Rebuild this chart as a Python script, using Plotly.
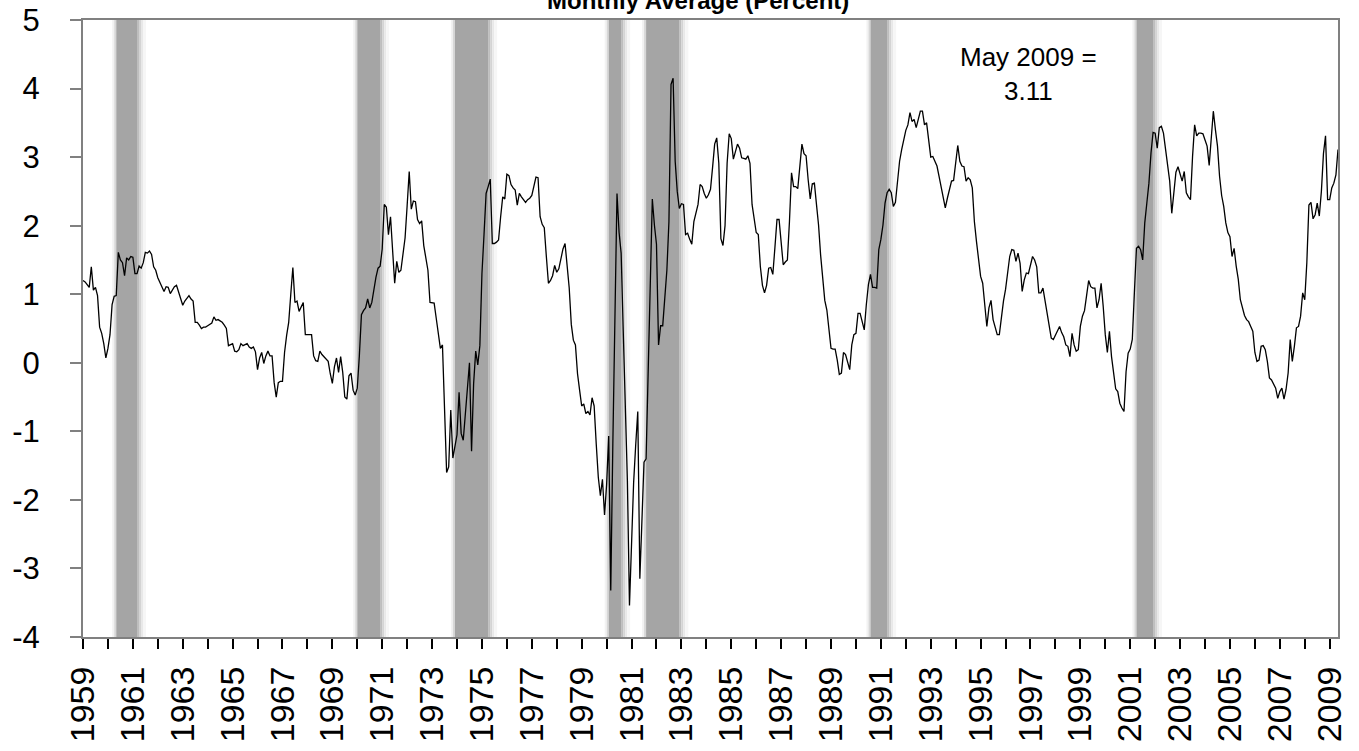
import plotly.graph_objects as go

# ---- Spread, monthly average (percent), Jan 1959 .. May 2009 ----
y1959 = [1.20, 1.18, 1.14, 1.10, 1.40, 1.06, 1.10, 0.98, 0.52, 0.43, 0.28, 0.07]
y1960 = [0.21, 0.41, 0.85, 0.97, 0.98, 1.61, 1.50, 1.46, 1.27, 1.53, 1.50, 1.55]
y1961 = [1.54, 1.30, 1.30, 1.41, 1.38, 1.46, 1.61, 1.60, 1.63, 1.58, 1.40, 1.35]
y1962 = [1.24, 1.18, 1.11, 1.04, 1.11, 1.10, 1.01, 1.06, 1.11, 1.13, 1.03, 0.96]
y1963 = [0.84, 0.90, 0.95, 0.98, 0.93, 0.90, 0.59, 0.59, 0.55, 0.50, 0.52, 0.52]
y1964 = [0.54, 0.56, 0.58, 0.67, 0.62, 0.63, 0.61, 0.59, 0.55, 0.50, 0.25, 0.26]
y1965 = [0.28, 0.17, 0.16, 0.19, 0.28, 0.25, 0.27, 0.28, 0.23, 0.21, 0.23, 0.16]
y1966 = [-0.10, 0.07, 0.15, -0.01, 0.10, 0.17, 0.10, 0.10, -0.29, -0.50, -0.29, -0.27]
y1967 = [-0.27, 0.15, 0.40, 0.59, 1.00, 1.39, 0.88, 0.90, 0.75, 0.83, 0.88, 0.41]
y1968 = [0.41, 0.42, 0.41, 0.10, 0.03, 0.02, 0.17, 0.12, 0.09, 0.05, 0.02, -0.16]
y1969 = [-0.30, -0.06, 0.07, -0.14, 0.09, -0.14, -0.50, -0.53, -0.19, -0.15, -0.40, -0.47]
y1970 = [-0.37, 0.10, 0.70, 0.76, 0.80, 0.93, 0.80, 0.88, 1.09, 1.25, 1.38, 1.41]
y1971 = [1.66, 2.31, 2.27, 1.87, 2.13, 1.71, 1.16, 1.48, 1.32, 1.35, 1.60, 1.82]
y1972 = [2.29, 2.79, 2.24, 2.36, 2.35, 2.09, 2.03, 2.07, 1.71, 1.53, 1.35, 0.88]
y1973 = [0.88, 0.87, 0.65, 0.43, 0.21, 0.26, -0.58, -1.60, -1.52, -0.69, -1.39, -1.21]
y1974 = [-1.05, -0.43, -1.03, -1.13, -0.74, -0.40, 0.00, -1.29, -0.30, 0.17, -0.03, 0.25]
y1975 = [1.30, 1.87, 2.47, 2.57, 2.68, 1.74, 1.74, 1.76, 1.79, 2.13, 2.42, 2.39]
y1976 = [2.75, 2.73, 2.60, 2.55, 2.52, 2.30, 2.47, 2.42, 2.38, 2.34, 2.38, 2.40]
y1977 = [2.44, 2.58, 2.71, 2.70, 2.13, 2.02, 1.97, 1.55, 1.16, 1.20, 1.27, 1.42]
y1978 = [1.32, 1.37, 1.53, 1.66, 1.74, 1.40, 1.09, 0.56, 0.33, 0.26, -0.16, -0.40]
y1979 = [-0.63, -0.60, -0.74, -0.71, -0.76, -0.51, -0.63, -1.18, -1.67, -1.94, -1.70, -2.22]
y1980 = [-1.78, -1.07, -3.32, -1.18, 0.65, 2.47, 1.90, 1.60, 0.47, -0.63, -1.72, -3.54]
y1981 = [-2.55, -1.75, -1.20, -0.71, -3.15, -2.27, -1.45, -1.40, -0.08, 1.29, 2.39, 2.01]
y1982 = [1.73, 0.26, 0.54, 0.54, 1.02, 1.35, 2.06, 4.06, 4.15, 2.94, 2.50, 2.25]
y1983 = [2.32, 2.31, 1.87, 1.89, 1.80, 1.73, 2.06, 2.17, 2.31, 2.60, 2.57, 2.47]
y1984 = [2.40, 2.45, 2.53, 2.85, 3.19, 3.28, 2.91, 1.81, 1.71, 2.00, 2.91, 3.34]
y1985 = [3.27, 2.97, 3.10, 3.19, 3.13, 2.99, 2.98, 2.97, 3.02, 2.91, 2.31, 2.06]
y1986 = [1.90, 1.87, 1.40, 1.13, 1.02, 1.13, 1.38, 1.39, 1.29, 1.68, 2.09, 2.09]
y1987 = [1.79, 1.43, 1.47, 1.50, 2.06, 2.77, 2.57, 2.57, 2.54, 2.91, 3.19, 3.05]
y1988 = [3.02, 2.67, 2.39, 2.61, 2.62, 2.31, 2.01, 1.57, 1.21, 0.91, 0.77, 0.47]
y1989 = [0.21, 0.20, 0.20, 0.04, -0.17, -0.15, 0.15, 0.12, 0.00, -0.10, 0.26, 0.41]
y1990 = [0.43, 0.72, 0.72, 0.60, 0.48, 0.85, 1.14, 1.29, 1.10, 1.10, 1.09, 1.65]
y1991 = [1.80, 2.01, 2.33, 2.48, 2.53, 2.48, 2.28, 2.34, 2.67, 2.94, 3.11, 3.25]
y1992 = [3.39, 3.47, 3.65, 3.52, 3.55, 3.43, 3.55, 3.67, 3.67, 3.47, 3.50, 3.26]
y1993 = [3.00, 3.01, 2.95, 2.87, 2.72, 2.57, 2.43, 2.26, 2.40, 2.55, 2.65, 2.66]
y1994 = [2.96, 3.17, 2.94, 2.87, 2.86, 2.65, 2.70, 2.67, 2.55, 2.06, 1.77, 1.55]
y1995 = [1.26, 1.16, 0.82, 0.53, 0.80, 0.91, 0.63, 0.50, 0.41, 0.41, 0.68, 0.90]
y1996 = [1.07, 1.30, 1.55, 1.65, 1.64, 1.48, 1.60, 1.45, 1.04, 1.21, 1.31, 1.30]
y1997 = [1.43, 1.55, 1.50, 1.40, 1.02, 1.02, 1.09, 0.92, 0.70, 0.53, 0.36, 0.34]
y1998 = [0.40, 0.48, 0.53, 0.44, 0.38, 0.26, 0.24, 0.09, 0.43, 0.26, 0.17, 0.19]
y1999 = [0.53, 0.68, 0.76, 0.98, 1.20, 1.11, 1.09, 1.09, 0.80, 0.92, 1.16, 0.82]
y2000 = [0.41, 0.15, 0.46, 0.09, -0.15, -0.38, -0.42, -0.59, -0.66, -0.71, -0.13, 0.14]
y2001 = [0.20, 0.34, 1.02, 1.67, 1.70, 1.65, 1.50, 2.04, 2.33, 2.62, 3.06, 3.36]
y2002 = [3.35, 3.13, 3.43, 3.45, 3.35, 3.13, 2.89, 2.65, 2.18, 2.48, 2.78, 2.86]
y2003 = [2.74, 2.65, 2.79, 2.48, 2.42, 2.38, 3.01, 3.47, 3.31, 3.35, 3.35, 3.34]
y2004 = [3.25, 3.16, 2.88, 3.26, 3.67, 3.40, 3.16, 2.72, 2.44, 2.28, 2.04, 1.90]
y2005 = [1.84, 1.55, 1.67, 1.41, 1.22, 0.92, 0.80, 0.69, 0.63, 0.60, 0.53, 0.46]
y2006 = [0.15, 0.02, 0.04, 0.24, 0.25, 0.19, 0.02, -0.22, -0.25, -0.30, -0.37, -0.52]
y2007 = [-0.42, -0.37, -0.53, -0.39, -0.15, 0.34, 0.02, 0.24, 0.51, 0.53, 0.68, 1.02]
y2008 = [0.92, 1.46, 2.30, 2.34, 2.10, 2.16, 2.33, 2.14, 2.50, 3.05, 3.31, 2.38]
y2009 = [2.38, 2.55, 2.62, 2.74, 3.11]

# NBER recessions (peak year, month) -> (trough year, month)
rec_peaks = [(1960, 4), (1969, 12), (1973, 11), (1980, 1), (1981, 7), (1990, 7), (2001, 3)]
rec_troughs = [(1961, 2), (1970, 11), (1975, 3), (1980, 7), (1982, 11), (1991, 3), (2001, 11)]

# axis tick labels
label_years = [1959, 1961, 1963, 1965, 1967, 1969, 1971, 1973, 1975, 1977, 1979,
               1981, 1983, 1985, 1987, 1989, 1991, 1993, 1995, 1997, 1999,
               2001, 2003, 2005, 2007, 2009]
y_ticks = [-4, -3, -2, -1, 0, 1, 2, 3, 4, 5]
y_ticklabels = ["-4", "-3", "-2", "-1", "0", "1", "2", "3", "4", "5"]

title_text = "Monthly Average (Percent)"
note_text = "May 2009 =<br>3.11"

# ---------------------------------------------------------------
years_data = [y1959, y1960, y1961, y1962, y1963, y1964, y1965, y1966, y1967, y1968,
              y1969, y1970, y1971, y1972, y1973, y1974, y1975, y1976, y1977, y1978,
              y1979, y1980, y1981, y1982, y1983, y1984, y1985, y1986, y1987, y1988,
              y1989, y1990, y1991, y1992, y1993, y1994, y1995, y1996, y1997, y1998,
              y1999, y2000, y2001, y2002, y2003, y2004, y2005, y2006, y2007, y2008,
              y2009]
spread = [v for yr in years_data for v in yr]
xs = [1959 + i / 12.0 for i in range(len(spread))]

FONT = "Arial, 'Liberation Sans', Helvetica, sans-serif"
W, H = 1359, 751
L, R, T, B = 83, 21, 20, 114
PW, PH = W - L - R, H - T - B
px_per_year = PW / (xs[-1] - 1959)
px = 1.0 / px_per_year  # one pixel in data units

fig = go.Figure()

shapes = []
core = "rgb(165,165,165)"
for (py, pm), (ty, tm) in zip(rec_peaks, rec_troughs):
    x0 = py + pm / 12.0
    x1 = ty + tm / 12.0
    fades = [
        (x0 - 4 * px, x0 - 2 * px, "rgb(242,242,242)"),
        (x0 - 2 * px, x0, "rgb(215,215,215)"),
        (x1, x1 + 2 * px, "rgb(190,190,190)"),
        (x1 + 2 * px, x1 + 4 * px, "rgb(212,212,212)"),
        (x1 + 4 * px, x1 + 6 * px, "rgb(232,232,232)"),
        (x1 + 6 * px, x1 + 9 * px, "rgb(246,246,246)"),
    ]
    for a, b, c in fades:
        shapes.append(dict(type="rect", xref="x", yref="paper", x0=a, x1=b, y0=0, y1=1,
                           fillcolor=c, line=dict(width=0), layer="below"))
    shapes.append(dict(type="rect", xref="x", yref="paper", x0=x0, x1=x1, y0=0, y1=1,
                       fillcolor=core, line=dict(width=0), layer="below"))

fig.add_trace(go.Scatter(x=xs, y=spread, mode="lines",
                         line=dict(color="black", width=1.3),
                         hoverinfo="skip", showlegend=False))

tickvals = list(range(1959, 2010))
ticktext = [str(y) if y in label_years else "" for y in tickvals]

fig.update_layout(
    width=W, height=H,
    margin=dict(l=L, r=R, t=T, b=B, pad=0, autoexpand=False),
    paper_bgcolor="white", plot_bgcolor="white",
    shapes=shapes,
    font=dict(family=FONT, color="black"),
    xaxis=dict(
        range=[1959, xs[-1]], tickmode="array", tickvals=tickvals, ticktext=ticktext,
        tickangle=-90, tickfont=dict(size=34, family=FONT, color="black"),
        ticks="outside", ticklen=10, tickwidth=1.5, tickcolor="black",
        showline=True, linecolor="#808080", linewidth=2, mirror=True,
        showgrid=False, zeroline=False, ticklabelstandoff=4, automargin=False,
    ),
    yaxis=dict(
        range=[-4, 5], tickmode="array", tickvals=y_ticks, ticktext=y_ticklabels,
        tickfont=dict(size=31, family=FONT, color="black"),
        ticks="outside", ticklen=11, tickwidth=1.5, tickcolor="#808080",
        showline=True, linecolor="#808080", linewidth=2, mirror=True,
        showgrid=False, zeroline=False, ticklabelstandoff=24, automargin=False,
    ),
    annotations=[
        dict(text="<b>" + title_text + "</b>", xref="paper", yref="paper",
             x=(698 - L) / PW, y=1 + (T - 16) / PH,
             xanchor="center", yanchor="bottom", showarrow=False,
             font=dict(size=24, family=FONT, color="black")),
        dict(text=note_text, xref="paper", yref="paper",
             x=(1028 - L) / PW, y=1 - (74 - T) / PH,
             xanchor="center", yanchor="middle", showarrow=False, align="center",
             font=dict(size=26, family=FONT, color="black")),
    ],
)

fig.write_html("out.html", config={"displayModeBar": False},
               post_script="document.body.style.margin='0';document.body.style.overflow='hidden';")
